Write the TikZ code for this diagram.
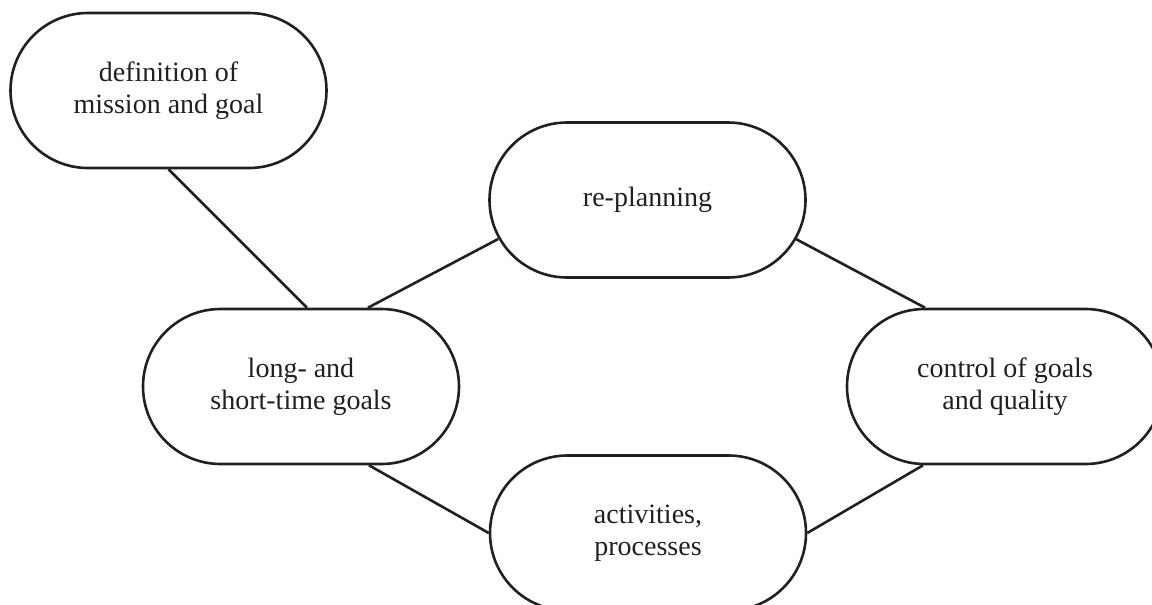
\documentclass[tikz,border=0pt]{standalone}
\usepackage{fontspec}
\setmainfont{Liberation Serif}
\definecolor{ink}{RGB}{35,31,32}
\tikzset{
  stadium/.style={draw=ink, line width=1.3pt, rectangle, rounded corners=38.75pt,
    minimum width=158pt, minimum height=77.5pt, inner sep=0pt, align=center,
    text=ink, font=\fontsize{14}{16}\selectfont, fill=white},
  link/.style={draw=ink, line width=1.3pt}
}
\begin{document}
\begin{tikzpicture}[x=0.5pt,y=-0.5pt]
\clip (0,0) rectangle (1152,605);
\fill[white] (0,0) rectangle (1152,605);
\node[stadium] (n1) at (168.5,90.5) {definition of\\mission and goal};
\node[stadium] (n2) at (647.5,200) {re-planning};
\node[stadium] (n3) at (301,386.5) {long- and\\short-time goals};
\node[stadium] (n4) at (1005,386.5) {control of goals\\and quality};
\node[stadium] (n5) at (648,533) {activities,\\processes};
\draw[link] (n1.south) -- ([xshift=3pt]n3.north);
\draw[link] ([xshift=33.5pt]n3.north) -- ([shift={(10,39)}]n2.west);
\draw[link] ([shift={(-11,39)}]n2.east) -- ([xshift=-40pt]n4.north);
\draw[link] ([xshift=34pt]n3.south) -- (n5.west);
\draw[link] (n5.east) -- ([xshift=-41pt]n4.south);
\end{tikzpicture}
\end{document}
